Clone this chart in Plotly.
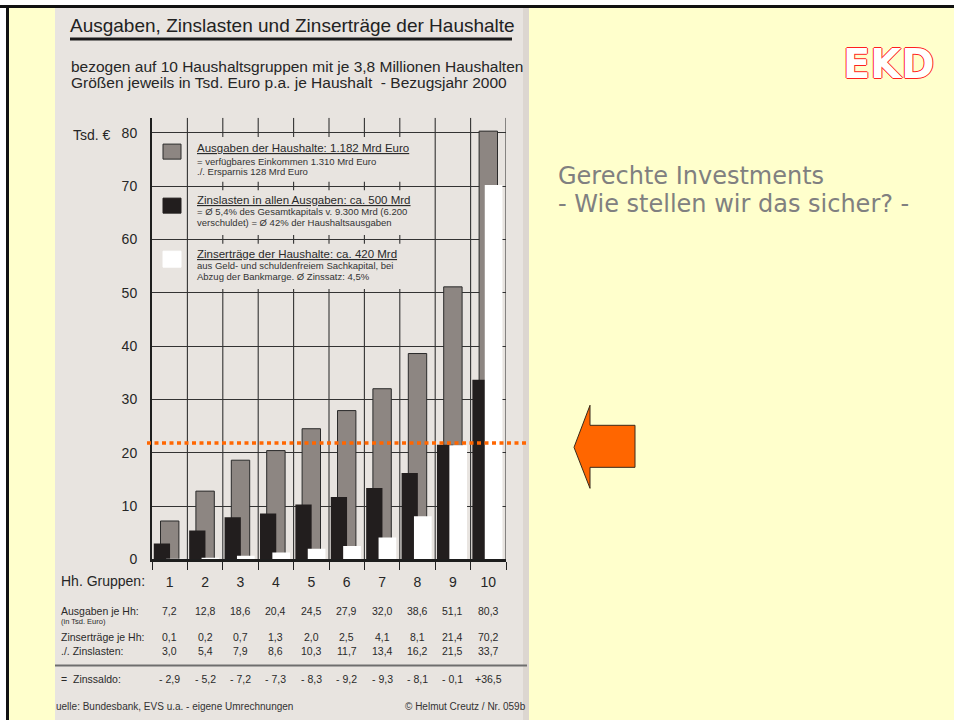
import plotly.graph_objects as go

# ---------------- data ----------------
groups = [1, 2, 3, 4, 5, 6, 7, 8, 9, 10]
ausgaben = [7.2, 12.8, 18.6, 20.4, 24.5, 27.9, 32.0, 38.6, 51.1, 80.3]
zinsertraege = [0.1, 0.2, 0.7, 1.3, 2.0, 2.5, 4.1, 8.1, 21.4, 70.2]
zinslasten = [3.0, 5.4, 7.9, 8.6, 10.3, 11.7, 13.4, 16.2, 21.5, 33.7]
y_ticks = [0, 10, 20, 30, 40, 50, 60, 70, 80]
threshold = 21.8

legend_entries = [
    ("Ausgaben der Haushalte: 1.182 Mrd Euro",
     "= verfügbares Einkommen 1.310 Mrd Euro",
     "./. Ersparnis 128 Mrd Euro"),
    ("Zinslasten in allen Ausgaben: ca. 500 Mrd",
     "= Ø 5,4% des Gesamtkapitals v. 9.300 Mrd (6.200",
     "verschuldet) = Ø 42% der Haushaltsausgaben"),
    ("Zinserträge der Haushalte: ca. 420 Mrd",
     "aus Geld- und schuldenfreiem Sachkapital, bei",
     "Abzug der Bankmarge. Ø Zinssatz: 4,5%"),
]

# ---------------- helpers ----------------
W, H = 954, 720
VS = 720 / 711.5          # vertical calibration of the rendered picture

def px(x):
    return x / W
def py(y):
    return 1 - y * VS / H

SCAN = "Liberation Sans, Arial, sans-serif"
SLIDE = "DejaVu Sans, Verdana, sans-serif"
INK = "#262626"
GREY_BAR = "#8d8682"
BLACK_BAR = "#221e1e"

def de(v):
    return f"{v:.1f}".replace(".", ",")

def saldo_txt(v):
    return ("+" if v > 0 else "- ") + de(abs(v))

annotations = []
shapes = []

def ann(text, x, y, size, color=INK, xanchor="left", family=SCAN, xref="paper", **kw):
    annotations.append(dict(text=text, x=(px(x) if xref == "paper" else x), y=py(y),
                            xref=xref, yref="paper",
                            xanchor=xanchor, yanchor="middle", showarrow=False, borderpad=0,
                            font=dict(family=family, size=size, color=color, **kw)))

def rect(x0, y0, x1, y1, fill, line=None, layer="below"):
    shapes.append(dict(type="rect", xref="paper", yref="paper",
                       x0=px(x0), x1=px(x1), y0=max(py(y1), -0.02), y1=py(y0),
                       fillcolor=fill, line=dict(width=0) if line is None else line,
                       layer=layer))

# ---------------- figure ----------------
fig = go.Figure()
fig.add_trace(go.Bar(x=groups, y=ausgaben, width=0.52, offset=-0.26,
                     marker=dict(color=GREY_BAR, line=dict(color="#2a2a2a", width=1)),
                     name="Ausgaben der Haushalte"))
fig.add_trace(go.Bar(x=groups, y=zinslasten, width=0.46, offset=-0.45,
                     marker=dict(color=BLACK_BAR, line=dict(width=0)),
                     name="Zinslasten"))
fig.add_trace(go.Bar(x=groups, y=zinsertraege, width=0.5, offset=-0.1,
                     marker=dict(color="#ffffff", line=dict(width=0)),
                     name="Zinserträge"))

# slide frame and scanned page
rect(0, 0, W, 5, "#ffffff")
rect(0, 5, 6, 740, "#ffffff")
rect(0, 5, W, 8, "#111111")
rect(6, 5, 9, 740, "#111111")
rect(55, 8, 529, 740, "#e8e4e0")
rect(523, 8, 529, 740, "#dcd6d0")

# vertical grid lines (category boundaries), gaps behind the legend box
for i in range(1, 11):
    xb = 0.5 + i
    if 2 <= i <= 7:
        segs = [(0, 50.7), (59.2, 60.8), (69.2, 70.8), (79.2, 82.8)]
    else:
        segs = [(0, 82.8)]
    for a, b in segs:
        shapes.append(dict(type="line", xref="x", yref="y", x0=xb, x1=xb, y0=a, y1=b,
                           line=dict(color="#333333", width=1.1), layer="below"))

# title underline, table rule
rect(70, 37.5, 512, 40.5, "#1a1a1a")
shapes.append(dict(type="line", xref="paper", yref="paper", x0=px(55), x1=px(527),
                   y0=py(665), y1=py(665), line=dict(color="#6e6e6e", width=2), layer="below"))

# legend swatches
sw = [(144, 159, GREY_BAR, "#2a2a2a"), (198, 213, BLACK_BAR, BLACK_BAR), (251, 267, "#ffffff", "#ffffff")]
for (y0, y1, fill, lc) in sw:
    rect(163, y0, 181, y1, fill, line=dict(color=lc, width=1), layer="above")

leg_y = [(148, 161.5, 171), (199.5, 211, 222.5), (253.5, 265.5, 276.5)]
for (t, s1, s2), (y0, y1, y2) in zip(legend_entries, leg_y):
    ann(f"<u>{t}</u>", 196, y0, 11.5, "#2a2a2a")
    ann(s1, 196, y1, 9.5, "#333333")
    ann(s2, 196, y2, 9.5, "#333333")

# dotted orange line
shapes.append(dict(type="line", xref="paper", yref="y", x0=px(147), x1=px(529),
                   y0=threshold, y1=threshold,
                   line=dict(color="#ff6600", width=3.5, dash="4px,3.5px"), layer="above"))

# orange arrow
pts = [(574, 447), (590, 405), (590, 425), (635, 425), (635, 467), (590, 467), (590, 488)]
path = "M " + " L ".join(f"{px(x):.5f},{py(y):.5f}" for x, y in pts) + " Z"
shapes.append(dict(type="path", xref="paper", yref="paper", path=path,
                   fillcolor="#ff6600", line=dict(color="#3a2a1a", width=1), layer="above"))

# header texts
ann("Ausgaben, Zinslasten und Zinserträge der Haushalte", 69, 25, 19, "#222222")
ann("bezogen auf 10 Haushaltsgruppen mit je 3,8 Millionen Haushalten", 70, 66, 15.5, "#262626")
ann("Größen jeweils in Tsd. Euro p.a. je Haushalt  - Bezugsjahr 2000", 70, 82, 15.5, "#262626")
ann("Tsd. €", 72, 135, 14, "#262626")
ann("Hh. Gruppen:", 60, 581, 14, "#262626")

# table, columns aligned with the groups
TS = 10.5
rows_y = {"aus": 611, "inf": 621, "ert": 637, "las": 651, "sal": 679}
ann("Ausgaben je Hh:", 60, rows_y["aus"], TS, "#2a2a2a")
ann("(in Tsd. Euro)", 60, rows_y["inf"], 7.5, "#2a2a2a")
ann("Zinserträge je Hh:", 60, rows_y["ert"], TS, "#2a2a2a")
ann("./. Zinslasten:", 60, rows_y["las"], TS, "#2a2a2a")
ann("=  Zinssaldo:", 60, rows_y["sal"], TS, "#2a2a2a")
for i, g in enumerate(groups):
    ann(de(ausgaben[i]), g, rows_y["aus"], TS, "#2a2a2a", xanchor="center", xref="x")
    ann(de(zinsertraege[i]), g, rows_y["ert"], TS, "#2a2a2a", xanchor="center", xref="x")
    ann(de(zinslasten[i]), g, rows_y["las"], TS, "#2a2a2a", xanchor="center", xref="x")
    ann(saldo_txt(zinsertraege[i] - zinslasten[i]), g, rows_y["sal"], TS, "#2a2a2a",
        xanchor="center", xref="x")

ann("uelle: Bundesbank, EVS u.a. - eigene Umrechnungen", 55, 706, 10, "#333333")
ann("© Helmut Creutz / Nr. 059b", 527, 706, 10, "#333333", xanchor="right")

# slide texts
ann("Gerechte Investments", 557, 176, 24, "#808080", family=SLIDE)
ann("- Wie stellen wir das sicher? -", 557, 204, 24, "#808080", family=SLIDE)
ann("EKD", 889, 64, 40, "#ffffff", xanchor="center", family=SLIDE, weight="bold",
    shadow="1px 0 0 #ff2020, -1px 0 0 #ff2020, 0 1px 0 #ff2020, 0 -1px 0 #ff2020")

fig.update_layout(
    width=W, height=H, margin=dict(l=0, r=0, t=0, b=0),
    paper_bgcolor="#ffffcc", plot_bgcolor="rgba(0,0,0,0)",
    barmode="overlay", showlegend=False,
    shapes=shapes, annotations=annotations,
    xaxis=dict(domain=[px(152), px(506)], range=[0.5, 10.5],
               tickvals=groups, ticktext=[str(g) for g in groups], ticks="",
               showgrid=False, zeroline=False, showline=True,
               linecolor="#1e1e1e", linewidth=2.5, ticklabelstandoff=8,
               tickfont=dict(family=SCAN, size=14, color="#262626"),
               minor=dict(tickvals=[0.5 + i for i in range(11)], ticks="outside",
                          ticklen=8, tickcolor="#222222", tickwidth=1.2, showgrid=False)),
    yaxis=dict(domain=[py(559), py(117.7)], range=[0, 82.8], tickvals=y_ticks,
               ticks="", showgrid=True, gridcolor="#333333", gridwidth=1.1,
               zeroline=False, showline=True, linecolor="#1e1e1e", linewidth=2,
               ticklabelstandoff=10,
               tickfont=dict(family=SCAN, size=14, color="#262626")),
    yaxis2=dict(overlaying="y", side="right", anchor="x", range=[0, 82.8],
                tickvals=y_ticks[1:], ticks="outside", ticklen=5, tickcolor="#333333",
                showticklabels=False, showgrid=False, zeroline=False, showline=False),
)

post = ("document.documentElement.style.margin='0';document.documentElement.style.padding='0';"
        "document.documentElement.style.overflow='hidden';"
        "document.body.style.margin='0';document.body.style.padding='0';"
        "document.body.style.overflow='hidden';"
        "var g=document.getElementsByClassName('plotly-graph-div')[0];"
        "g.style.position='fixed';g.style.top='0px';g.style.left='0px';")
fig.write_html("out.html", config={"displayModeBar": False}, post_script=post)
